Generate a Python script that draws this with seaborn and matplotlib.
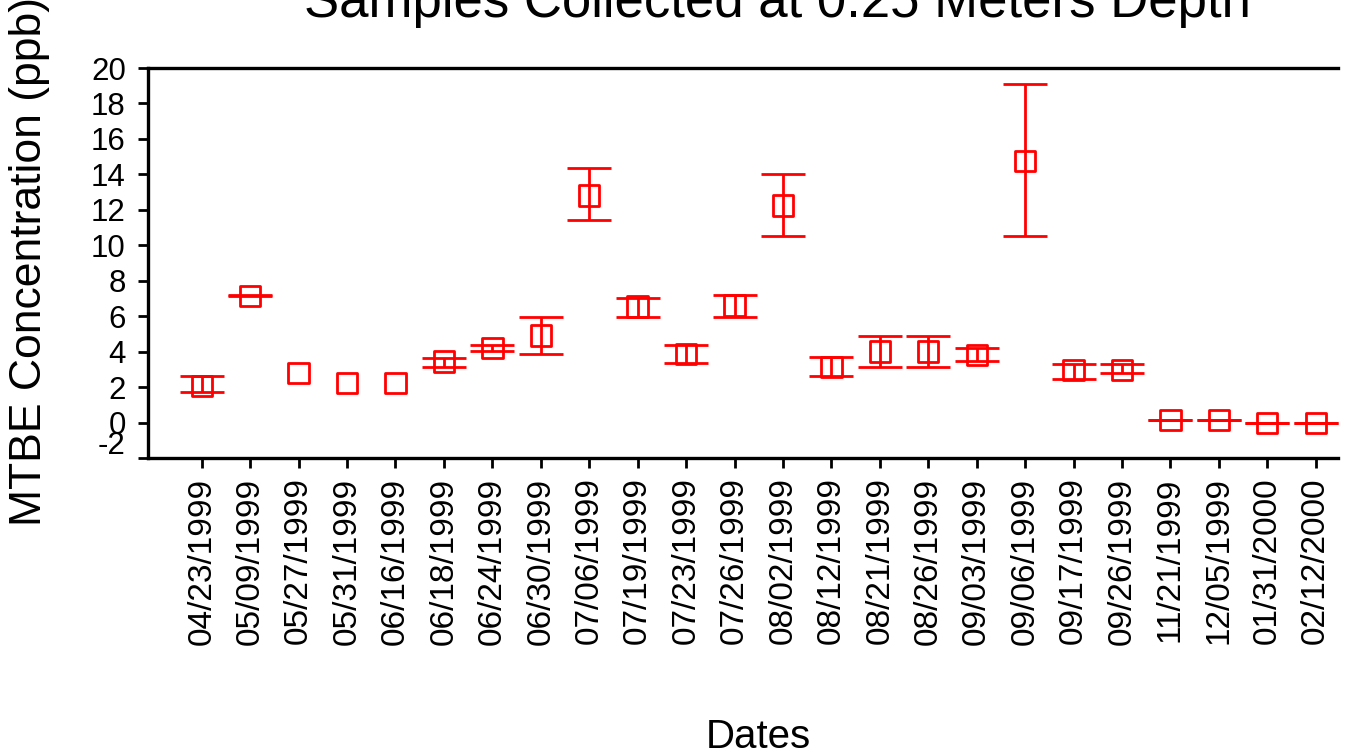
import numpy as np
import pandas as pd
import matplotlib
matplotlib.use("Agg")
import matplotlib.pyplot as plt
import matplotlib.transforms as mtransforms
import seaborn as sns

dates = ["04/23/1999", "05/09/1999", "05/27/1999", "05/31/1999", "06/16/1999",
         "06/18/1999", "06/24/1999", "06/30/1999", "07/06/1999", "07/19/1999",
         "07/23/1999", "07/26/1999", "08/02/1999", "08/12/1999", "08/21/1999",
         "08/26/1999", "09/03/1999", "09/06/1999", "09/17/1999", "09/26/1999",
         "11/21/1999", "12/05/1999", "01/31/2000", "02/12/2000"]
mtbe = [2.05, 7.15, 2.78, 2.22, 2.22, 3.45, 4.2, 4.9, 12.8, 6.55,
        3.85, 6.6, 12.25, 3.15, 4.0, 4.0, 3.8, 14.75, 2.95, 2.95,
        0.15, 0.15, -0.02, -0.02]
lower = [1.75, 7.12, np.nan, np.nan, np.nan, 3.15, 4.02, 3.85, 11.4, 5.95,
         3.34, 5.95, 10.5, 2.6, 3.12, 3.12, 3.5, 10.52, 2.44, 2.78,
         0.13, 0.13, -0.04, -0.04]
upper = [2.62, 7.17, np.nan, np.nan, np.nan, 3.66, 4.4, 5.95, 14.37, 7.0,
         4.37, 7.22, 14.03, 3.68, 4.86, 4.86, 4.19, 19.12, 3.28, 3.28,
         0.17, 0.17, 0.0, 0.0]
yticks = list(range(-2, 21, 2))

sns.set_theme(style="white")
plt.rcParams["font.family"] = ["Liberation Sans", "DejaVu Sans"]

fig = plt.figure(figsize=(13.53, 7.54), dpi=100)
ax = fig.add_axes([148/1353, 1-458/754, (1338-148)/1353, (458-68)/754])

df = pd.DataFrame({"pos": np.arange(len(dates)), "date": dates, "mtbe": mtbe,
                   "lower": lower, "upper": upper})

err = np.vstack([df["mtbe"] - df["lower"], df["upper"] - df["mtbe"]])
mask = ~df["lower"].isna()
ax.errorbar(df["pos"][mask], df["mtbe"][mask], yerr=err[:, mask.values],
            fmt="none", ecolor="#ff0000", elinewidth=2.0, capsize=15.5,
            capthick=2.0, zorder=2)
sns.scatterplot(data=df, x="pos", y="mtbe", marker="s", s=215,
                facecolor="none", edgecolor="#ff0000", linewidth=2.0,
                ax=ax, zorder=3, legend=False)

ax.set_xlim(-1.11, 23.46)
ax.set_ylim(-2, 20)
ax.set_xticks(df["pos"])
ax.set_xticklabels(dates, rotation=90, fontsize=24)
ax.set_yticks(yticks)
ax.set_yticklabels([str(v) for v in yticks], fontsize=22.5)
ax.set_xlabel("")
ax.set_ylabel("")

for side in ["top", "left", "bottom"]:
    ax.spines[side].set_visible(True)
    ax.spines[side].set_color("black")
    ax.spines[side].set_linewidth(2.4)
ax.spines["right"].set_visible(False)
ax.tick_params(axis="both", which="major", direction="out", length=7,
               width=2.0, color="black", labelcolor="black", pad=7,
               left=True, bottom=True)
ax.tick_params(axis="y", pad=9)

# shift the -2 label upward as in the reference
lab = ax.get_yticklabels()[0]
lab.set_transform(lab.get_transform() +
                  mtransforms.ScaledTranslation(0, 16/100, fig.dpi_scale_trans))

fig.text(777/1353, 1-17/754, "Samples Collected at 0.25 Meters Depth",
         ha="center", va="baseline", fontsize=38, color="black")
fig.text(758/1353, 1-748/754, "Dates", ha="center", va="baseline",
         fontsize=29, color="black")
fig.text(30/1353, 1-262/754, "MTBE Concentration (ppb)", ha="center",
         va="center", rotation=90, fontsize=32, color="black")

fig.savefig("out.png", dpi=100, facecolor="white")
